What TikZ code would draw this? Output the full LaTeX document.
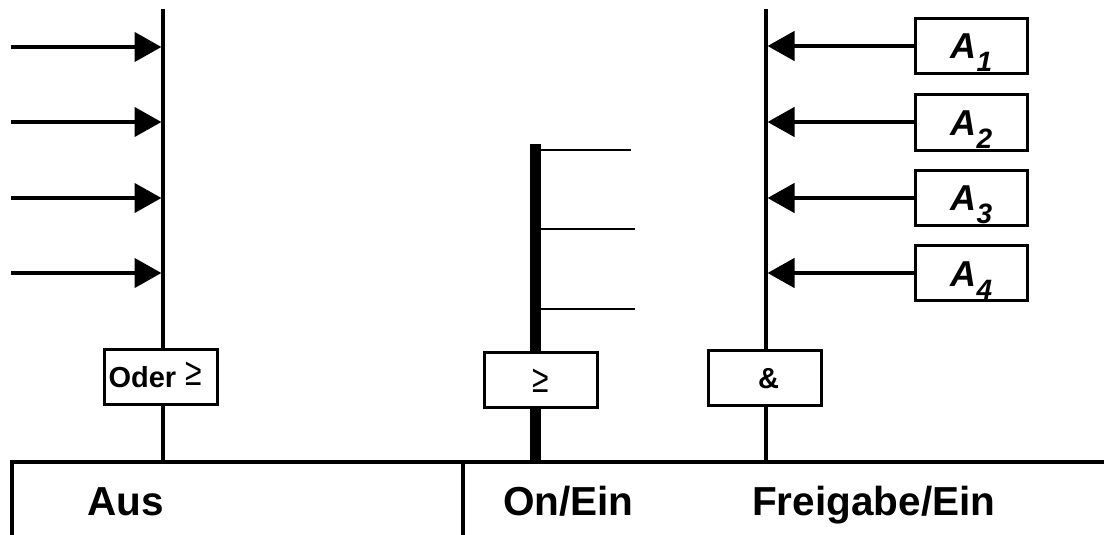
\documentclass[tikz,border=0pt]{standalone}
\usepackage{fontspec}
\setmainfont{Liberation Sans}
\usetikzlibrary{arrows.meta}

\tikzset{
  bus/.style={line width=3.2pt},
  thickbus/.style={line width=11pt},
  tick/.style={line width=1.5pt},
  base/.style={line width=3.6pt},
  signal/.style={line width=4.5pt, -{Triangle[length=27pt,width=29pt]}},
  gate/.style={draw, line width=3pt, fill=white, inner sep=0pt,
    minimum width=113pt, minimum height=55pt},
  inbox/.style={gate, minimum width=112pt, minimum height=55pt},
  gatefont/.style={font=\fontsize{29}{29}\selectfont\bfseries},
  title/.style={anchor=base west, inner sep=0pt,
    font=\fontsize{40.5}{40.5}\selectfont\bfseries},
}
\newcommand{\gesign}{{\fontsize{30}{30}\selectfont\mdseries\raisebox{2pt}{\scalebox{1}[1.3]{≥}}}}
\newcommand{\inlabel}[1]{{\fontsize{36}{36}\selectfont\bfseries\itshape A\raisebox{-13pt}{\fontsize{28}{28}\selectfont #1}}}

\begin{document}
\begin{tikzpicture}[x=1pt, y=-1pt]
\useasboundingbox (0,0) rectangle (1104,535);

% --- left bus: OR of the stop signals
\node[gate, gatefont, text height=21pt, text depth=0pt, text width=105pt, align=left,
  inner xsep=4pt] (oder) at (161,377) {Oder \gesign};
\coordinate (ltop) at (163,9);
\coordinate (lbot) at (163,462);
\draw[bus] (ltop) -- (ltop |- oder.north);
\draw[bus] (lbot |- oder.south) -- (lbot);
\foreach \y [count=\i] in {47,122,198,273} {
  \coordinate (lin\i) at (11,\y);
  \coordinate (lend\i) at (161.5,\y);
  \draw[signal] (lin\i) -- (lend\i);
}

% --- middle bus: OR of the start signals
\node[gate, text height=28pt, text depth=0pt] (ein) at (541,380) {\gesign};
\coordinate (mtop) at (535.5,144);
\coordinate (mbot) at (535.5,462);
\draw[thickbus] (mtop) -- (mtop |- ein.north);
\draw[thickbus] (mbot |- ein.south) -- (mbot);
\foreach \y/\xe [count=\i] in {150/631,229/635,309/635} {
  \coordinate (mt\i) at (541,\y);
  \coordinate (me\i) at (\xe,\y);
  \draw[tick] (mt\i) -- (me\i);
}

% --- right bus: AND of the enabling inputs
\node[gate, gatefont, text height=21pt, text depth=0pt] (und) at (764.5,377.5) {\hspace*{8pt}\&};
\coordinate (rtop) at (766,9);
\coordinate (rbot) at (766,462);
\draw[bus] (rtop) -- (rtop |- und.north);
\draw[bus] (rbot |- und.south) -- (rbot);
\foreach \y/\yc [count=\i] in {46/46,122/122.5,198/197.5,273/273} {
  \node[inbox, text height=26pt, text depth=0pt] (a\i) at (971.5,\yc) {\inlabel{\i}};
  \coordinate (rend\i) at (767.5,\y);
  \draw[signal] (a\i.west |- rend\i) -- (rend\i);
}

% --- base bar with the three sections
\coordinate (bl) at (12,535);
\coordinate (bc) at (12,462);
\coordinate (br) at (1104,462);
\coordinate (dtop) at (463,462);
\coordinate (dbot) at (463,535);
\draw[base] (bl) -- (bc) -- (br);
\draw[base] (dtop) -- (dbot);

\node[title] (aus) at (87,515) {Aus};
\node[title] (on) at (503,515) {On/Ein};
\node[title] (frei) at (752,515) {Freigabe/Ein};
\end{tikzpicture}
\end{document}
